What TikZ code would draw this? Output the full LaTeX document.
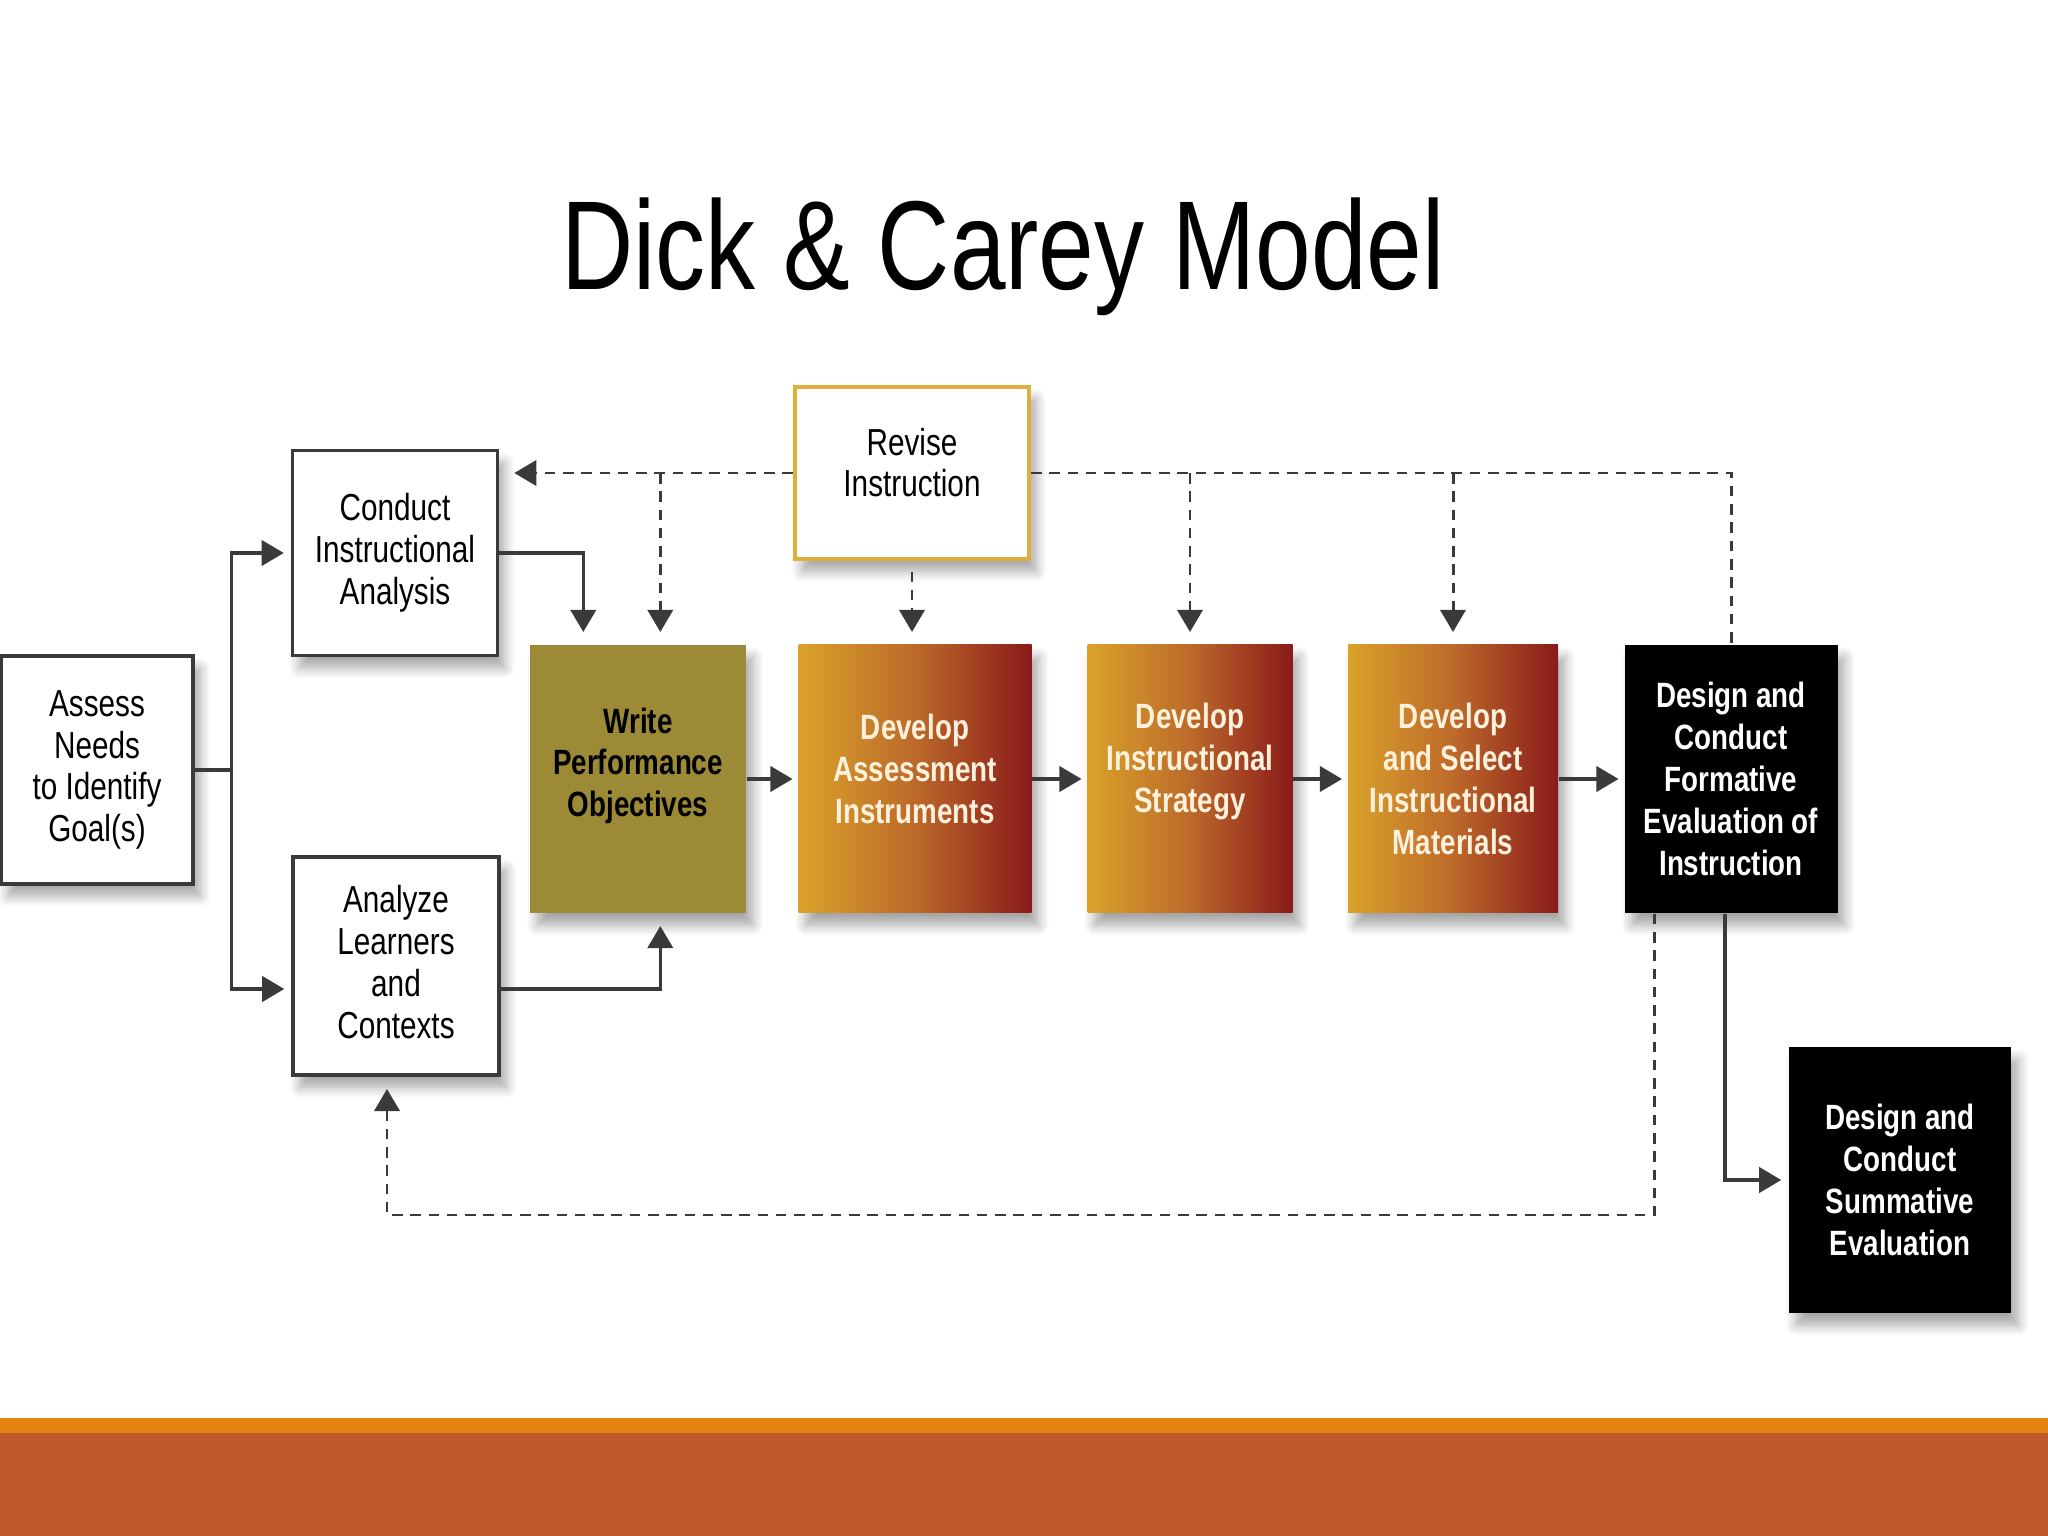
\documentclass[tikz,border=0pt]{standalone}
\usepackage{fontspec}
\setmainfont{Liberation Sans}[FakeStretch=0.79]
\usepackage{xcolor}
\usepackage{tikz}
\usetikzlibrary{arrows.meta, positioning, shadows.blur, calc}
\definecolor{gris}{HTML}{3A3A3A}
\definecolor{oliva}{HTML}{9C8A36}
\definecolor{dorado}{HTML}{DAA22A}
\definecolor{cobre}{HTML}{BC6A2A}
\definecolor{granate}{HTML}{8A1A1A}
\definecolor{marco}{HTML}{DDB03E}
\definecolor{naranja}{HTML}{E4820F}
\definecolor{oxido}{HTML}{BC582C}
\definecolor{crema}{HTML}{FFF1DC}
\tikzset{
  sombra/.style={blur shadow={shadow xshift=2pt, shadow yshift=-3.5pt,
    shadow blur radius=3pt, shadow blur steps=8, shadow opacity=35}},
  caja/.style={rectangle, draw=gris, line width=0.95pt, fill=white, sombra,
    align=center, inner sep=2pt, font=\fontsize{10.7}{11.9}\selectfont},
  paso/.style={rectangle, sombra, align=center, inner sep=2pt,
    minimum height=2.68cm, font=\fontsize{10}{11.9}\selectfont\bfseries},
  degradado/.style={paso, left color=dorado, right color=granate,
    middle color=cobre, text=crema},
  negro/.style={paso, fill=black, text=white},
  flecha/.style={-{Triangle[length=6.3pt, width=7.2pt]}, gris, line width=0.9pt},
  retro/.style={flecha, line width=0.85pt, dash pattern=on 3pt off 2.2pt}
}

\begin{document}
\begin{tikzpicture}[
  linea/.style={gris, line width=0.9pt},
  corto/.style={shorten >=3.5pt}]

  \useasboundingbox (0,0) rectangle (20.48,-15.36);

  % --- Franja inferior ---
  \fill[naranja] (0,-14.18) rectangle (20.48,-14.33);
  \fill[oxido] (0,-14.33) rectangle (20.48,-15.36);

  % --- Titulo ---
  \node[font=\fontsize{36}{40}\selectfont, anchor=base] (titulo) at (10.03,-2.90)
    {Dick \& Carey Model};

  % --- Cajas ---
  \node[caja, draw=marco, line width=1.2pt, minimum width=2.34cm, minimum height=1.72cm]
    (rev) at (9.12,-4.73) {Revise\\Instruction\\[-5.9pt]};
  \node[caja, minimum width=2.05cm, minimum height=2.05cm] (cia) at (3.95,-5.53)
    {Conduct\\Instructional\\Analysis};
  \node[caja, minimum width=1.92cm, minimum height=2.28cm] (ana) at (0.97,-7.70)
    {Assess\\Needs\\to Identify\\Goal(s)};
  \node[caja, minimum width=2.06cm, minimum height=2.18cm] (alc) at (3.96,-9.66)
    {Analyze\\Learners\\and\\Contexts\\[-9.5pt]};

  \node[paso, fill=oliva, minimum width=2.16cm] (wpo) at (6.38,-7.79)
    {Write\\Performance\\Objectives\\[-2.3pt]};
  \node[degradado, minimum width=2.33cm] (dai) at (9.15,-7.79)
    {Develop\\Assessment\\Instruments\\[-5.9pt]};
  \node[degradado, minimum width=2.05cm] (dis) at (11.90,-7.79)
    {Develop\\Instructional\\Strategy\\[0pt]};
  \node[degradado, minimum width=2.10cm] (dsm) at (14.53,-7.79)
    {Develop\\and Select\\Instructional\\Materials};
  \node[negro, minimum width=2.13cm] (dcf) at (17.31,-7.79)
    {Design and\\Conduct\\Formative\\Evaluation of\\Instruction};
  \node[negro, minimum width=2.22cm, minimum height=2.66cm] (dcs) at (19.00,-11.80)
    {Design and\\Conduct\\Summative\\Evaluation};

  % --- Puntos de paso ---
  \coordinate (rama) at ($(ana.east)+(0.37,0)$);
  \coordinate (wa) at ($(wpo.north west)+(0.54,0)$);
  \coordinate (wb) at ($(wpo.north west)+(1.31,0)$);
  \coordinate (sal) at ($(alc.east)+(0,-0.23)$);
  \coordinate (fb) at ($(dcf.south west)+(0.31,0)$);
  \coordinate (fondo) at (0,-12.15);
  \coordinate (ent) at ($(alc.south)+(-0.09,0)$);

  % --- Flechas solidas ---
  \draw[linea] (ana.east) -- (rama);
  \draw[flecha, shorten >=2pt] (rama) |- (cia.west);
  \draw[flecha, shorten >=2pt] (rama) |- (rama |- sal) -- (sal -| alc.west);
  \draw[flecha, corto] (cia.east) -| (wa |- wpo.north);
  \draw[flecha, corto] (sal) -| (wb |- wpo.south);
  \foreach \a/\b in {wpo/dai, dai/dis, dis/dsm, dsm/dcf}
    \draw[flecha, shorten >=1.5pt] (\a) -- (\b);
  \draw[flecha, shorten >=2pt] ($(dcf.south)+(-0.06,0)$) |- (dcs.west);

  % --- Retroalimentacion (discontinua) ---
  \draw[retro, shorten >=4.3pt] (rev.west) -- (cia.east |- rev.west);
  \draw[retro, corto] (wb |- rev.west) -- (wb |- wpo.north);
  \draw[retro, corto, shorten <=3pt] (rev.south) -- (rev.south |- dai.north);
  \draw[retro, -] (rev.east) -| (dcf.north);
  \draw[retro, corto] (dis.north |- rev.east) -- (dis.north);
  \draw[retro, corto] (dsm.north |- rev.east) -- (dsm.north);
  \draw[retro, corto] (fb) -- (fb |- fondo) -| (ent);

\end{tikzpicture}
\end{document}
